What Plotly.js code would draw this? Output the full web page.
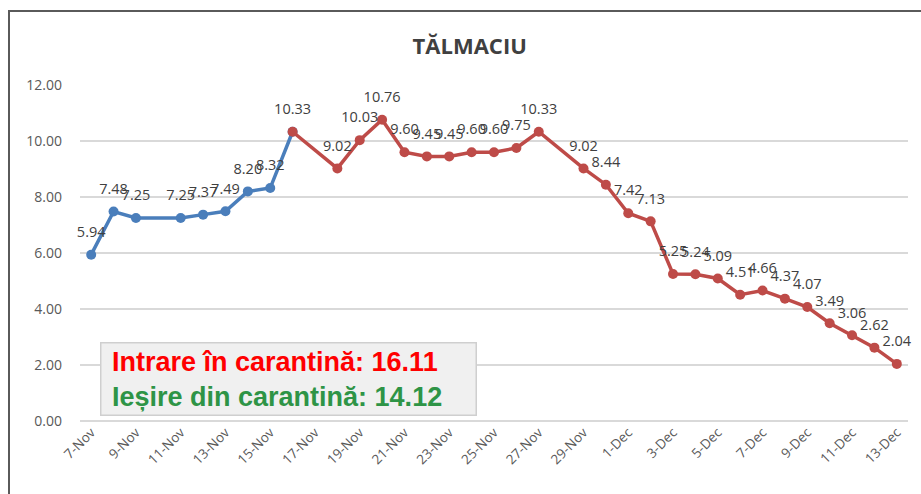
<!DOCTYPE html>
<html>
<head>
<meta charset="utf-8">
<script src="https://cdn.plot.ly/plotly-3.0.1.min.js"></script>
<style>
  html, body { margin: 0; padding: 0; background: #ffffff; }
  #wrap { position: relative; width: 921px; height: 494px; overflow: hidden; }
  #chart { width: 921px; height: 494px; }
  #frame { position: absolute; left: 8px; top: 10px; width: 940px; height: 520px;
           border-top: 2px solid #5a5a5a; border-left: 2px solid #5a5a5a; pointer-events: none; }
</style>
</head>
<body>
<div id="wrap">
  <div id="chart"></div>
  <div id="frame"></div>
</div>
<script>
// Period before (blue) — last point connects into the red segment
const blueDates = ['2020-11-07','2020-11-08','2020-11-09','2020-11-11','2020-11-12','2020-11-13','2020-11-14','2020-11-15','2020-11-16'];
const blueValues = [5.94, 7.48, 7.25, 7.25, 7.37, 7.49, 8.20, 8.32, 10.33];
const blueLabels = ['5.94','7.48','7.25','7.25','7.37','7.49','8.20','8.32',''];

// Period after (red)
const redDates = ['2020-11-16','2020-11-18','2020-11-19','2020-11-20','2020-11-21','2020-11-22','2020-11-23','2020-11-24','2020-11-25','2020-11-26','2020-11-27','2020-11-29','2020-11-30','2020-12-01','2020-12-02','2020-12-03','2020-12-04','2020-12-05','2020-12-06','2020-12-07','2020-12-08','2020-12-09','2020-12-10','2020-12-11','2020-12-12','2020-12-13'];
const redValues = [10.33, 9.02, 10.03, 10.76, 9.60, 9.45, 9.45, 9.60, 9.60, 9.75, 10.33, 9.02, 8.44, 7.42, 7.13, 5.25, 5.24, 5.09, 4.51, 4.66, 4.37, 4.07, 3.49, 3.06, 2.62, 2.04];
const redLabels = redValues.map(v => v.toFixed(2));

const titleText = 'TĂLMACIU';
const noteLine1 = 'Intrare în carantină: 16.11';
const noteLine2 = 'Ieșire din carantină: 14.12';

const labelFont = { family: 'Open Sans, sans-serif', size: 14.5, color: '#404040' };

function lineTrace(x, y, color) {
  return {
    x: x, y: y, type: 'scatter', mode: 'lines+markers',
    line: { color: color, width: 3.5 },
    marker: { color: color, size: 10 },
    hoverinfo: 'x+y', cliponaxis: false
  };
}
function labelTrace(x, y, t) {
  return {
    x: x, y: y, type: 'scatter', mode: 'markers+text',
    text: t, textposition: 'top center', textfont: labelFont,
    marker: { size: 21, color: 'rgba(0,0,0,0)' },
    hoverinfo: 'skip', cliponaxis: false
  };
}

const traces = [
  lineTrace(blueDates, blueValues, '#4a7ebb'),
  lineTrace(redDates, redValues, '#be4b48'),
  labelTrace(blueDates, blueValues, blueLabels),
  labelTrace(redDates, redValues, redLabels)
];

const layout = {
  width: 921, height: 494,
  margin: { l: 80, r: 13, t: 85, b: 73 },
  paper_bgcolor: '#ffffff', plot_bgcolor: '#ffffff',
  showlegend: false,
  title: {
    text: '<b>' + titleText + '</b>',
    font: { family: 'Open Sans, sans-serif', size: 22, color: '#404040' },
    x: 0.51, xanchor: 'center', y: 0.907, yanchor: 'middle'
  },
  xaxis: {
    type: 'date',
    range: ['2020-11-06 12:00', '2020-12-13 12:00'],
    tick0: '2020-11-07', dtick: 2 * 86400000,
    tickformat: '%-d-%b', tickangle: -45,
    tickfont: { family: 'Open Sans, sans-serif', size: 13.5, color: '#595959' },
    showgrid: false, showline: false, zeroline: false, ticks: ''
  },
  yaxis: {
    range: [0, 12], dtick: 2, tickformat: '.2f',
    tickfont: { family: 'Open Sans, sans-serif', size: 14, color: '#595959' },
    gridcolor: '#d9d9d9', gridwidth: 1.3,
    zeroline: true, zerolinecolor: '#d9d9d9', zerolinewidth: 1.3,
    showline: false, ticks: '', ticklabelstandoff: 17
  },
  annotations: [
    {
      xref: 'paper', yref: 'paper', x: 0.024, y: 0.016, xanchor: 'left', yanchor: 'bottom',
      align: 'left', width: 368,
      text: '<b><span style="color:#ff0000">&nbsp;' + noteLine1 + '</span><br><span style="color:#2e9446">&nbsp;' + noteLine2 + '</span></b>',
      font: { family: 'Liberation Sans, Arial, sans-serif', size: 27 },
      bgcolor: '#f0f0f0', bordercolor: '#cfcfcf', borderwidth: 1.5, borderpad: 3,
      showarrow: false
    }
  ]
};

Plotly.newPlot('chart', traces, layout, { displayModeBar: false, staticPlot: true });
</script>
</body>
</html>
